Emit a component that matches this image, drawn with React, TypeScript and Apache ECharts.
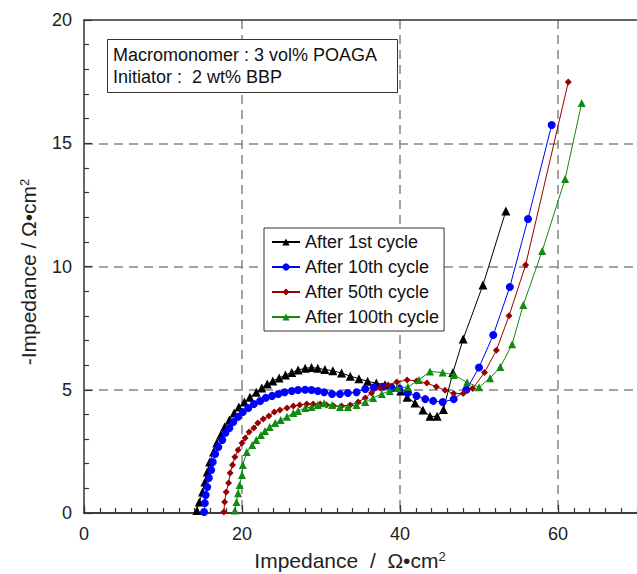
import React, { useEffect, useRef } from "react";
import * as echarts from "echarts";

// ---- data (Z' , -Z'') ----
const seriesNames = ["After 1st cycle", "After 10th cycle", "After 50th cycle", "After 100th cycle"];

const cycle1: number[][] = [
  [14.3, 0.1], [14.6, 0.45], [15.0, 0.85], [15.3, 1.26], [15.6, 1.66], [15.9, 2.07], [16.4, 2.47],
  [16.8, 2.84], [17.3, 3.16], [17.8, 3.49], [18.4, 3.77], [19.0, 4.06], [19.6, 4.3], [20.3, 4.5],
  [21.0, 4.7], [21.8, 4.9], [22.5, 5.07], [23.2, 5.23], [23.9, 5.36], [24.7, 5.48], [25.5, 5.6],
  [26.3, 5.7], [27.1, 5.8], [28.0, 5.87], [28.8, 5.9], [29.6, 5.87], [30.5, 5.82], [31.5, 5.77],
  [32.6, 5.68], [33.7, 5.55], [34.8, 5.45], [35.9, 5.34], [37.0, 5.27], [38.1, 5.2], [39.1, 5.1],
  [40.1, 4.95], [40.9, 4.7], [41.9, 4.46], [42.9, 4.18], [43.8, 3.92], [44.7, 3.92], [45.5, 4.2],
  [46.7, 5.7], [48.0, 7.06], [50.5, 9.25], [53.4, 12.25],
];

const cycle10: number[][] = [
  [15.2, 0.04], [15.3, 0.4], [15.4, 0.73], [15.6, 1.05], [15.8, 1.42], [16.1, 1.74], [16.3, 2.07],
  [16.6, 2.39], [17.0, 2.68], [17.5, 2.96], [17.9, 3.25], [18.4, 3.45], [18.9, 3.69], [19.5, 3.9],
  [20.1, 4.1], [20.8, 4.26], [21.5, 4.42], [22.3, 4.54], [23.0, 4.67], [23.8, 4.75], [24.6, 4.83],
  [25.4, 4.9], [26.3, 4.95], [27.1, 4.99], [28.0, 5.0], [28.8, 4.99], [29.6, 4.95], [30.4, 4.9],
  [31.4, 4.83], [32.4, 4.83], [33.4, 4.87], [34.5, 4.9], [35.6, 5.03], [36.7, 5.1], [37.8, 5.12],
  [38.9, 5.1], [39.9, 5.05], [41.0, 4.88], [42.1, 4.75], [43.2, 4.62], [44.2, 4.55], [45.4, 4.5],
  [46.8, 4.62], [48.4, 5.0], [50.0, 5.9], [51.8, 7.22], [53.9, 9.17], [56.2, 11.93], [59.2, 15.74],
];

const cycle50: number[][] = [
  [17.7, 0.04], [17.8, 0.45], [18.0, 0.85], [18.3, 1.22], [18.5, 1.62], [18.8, 1.95], [19.1, 2.27],
  [19.5, 2.56], [20.0, 2.84], [20.4, 3.04], [20.9, 3.29], [21.5, 3.45], [22.0, 3.65], [22.7, 3.81],
  [23.4, 3.94], [24.1, 4.1], [24.8, 4.18], [25.7, 4.26], [26.5, 4.34], [27.3, 4.38], [28.2, 4.42],
  [29.0, 4.42], [29.9, 4.42], [30.7, 4.38], [31.6, 4.34], [32.6, 4.34], [33.7, 4.38], [34.7, 4.5],
  [35.6, 4.67], [36.4, 4.87], [37.5, 5.07], [38.5, 5.19], [39.6, 5.31], [40.9, 5.4], [42.1, 5.36],
  [43.4, 5.27], [44.6, 5.12], [45.7, 4.98], [46.8, 4.85], [48.0, 4.85], [49.2, 5.05], [50.7, 5.7],
  [52.2, 6.6], [53.8, 8.0], [55.9, 10.06], [61.3, 17.48],
];

const cycle100: number[][] = [
  [19.1, 0.1], [19.3, 0.45], [19.5, 0.8], [19.7, 1.14], [20.0, 1.54], [20.1, 1.95], [20.6, 2.47],
  [21.3, 2.76], [21.8, 2.96], [22.4, 3.16], [22.9, 3.33], [23.5, 3.49], [24.2, 3.65], [24.9, 3.77],
  [25.7, 3.9], [26.5, 4.06], [27.1, 4.14], [28.0, 4.26], [28.8, 4.3], [29.6, 4.38], [30.4, 4.45],
  [31.4, 4.38], [32.4, 4.3], [33.4, 4.3], [34.5, 4.38], [35.6, 4.5], [36.6, 4.67], [37.7, 4.83],
  [38.7, 4.95], [39.7, 5.07], [41.0, 5.11], [42.4, 5.4], [43.8, 5.74], [45.4, 5.7], [46.8, 5.6],
  [48.5, 5.3], [50.0, 5.1], [51.4, 5.47], [52.7, 5.92], [54.2, 6.85], [55.6, 8.44], [58.0, 10.63],
  [60.9, 13.55], [63.0, 16.63],
];

const seriesData = [cycle1, cycle10, cycle50, cycle100];
const seriesColors = ["#000000", "#0000ff", "#990000", "#118a11"];
const seriesSymbols = ["triangle", "circle", "diamond", "triangle"];
const seriesSymbolSizes = [9, 8, 7, 8];

const xRange = [0, 70];
const yRange = [0, 20];
const annotationLines = ["Macromonomer : 3 vol% POAGA", "Initiator :  2 wt% BBP"];

const FONT = "'Liberation Sans', Arial, sans-serif";

export default function App() {
  const ref = useRef<HTMLDivElement>(null);

  useEffect(() => {
    if (!ref.current) return;
    const chart = echarts.init(ref.current, null, { renderer: "svg" });
    const gridDash = { color: "#858585", width: 1.5, type: [9, 6] as any };
    const tickStyle = { color: "#333", width: 1.2 };

    chart.setOption({
      animation: false,
      backgroundColor: "#ffffff",
      textStyle: { fontFamily: FONT },
      grid: { left: 84, right: 0, top: 20, bottom: 61, containLabel: false },
      xAxis: [
        {
          type: "value",
          position: "bottom",
          min: xRange[0],
          max: xRange[1],
          interval: 20,
          axisLine: { show: true, onZero: false, lineStyle: { color: "#333", width: 1.5 } },
          axisTick: { show: true, inside: true, length: 8, lineStyle: tickStyle },
          axisLabel: { fontSize: 18, color: "#222", margin: 12, showMaxLabel: false, fontFamily: FONT },
          splitLine: { show: true, showMinLine: false, showMaxLine: false, lineStyle: gridDash },
        },
        {
          type: "value",
          position: "bottom",
          min: xRange[0],
          max: xRange[1],
          interval: 2,
          axisLine: { show: true, onZero: false, lineStyle: { color: "#333", width: 1.5 } },
          axisTick: { show: true, inside: true, length: 5, lineStyle: tickStyle },
          axisLabel: { show: false },
          splitLine: { show: false },
        },
        {
          type: "value",
          position: "top",
          min: xRange[0],
          max: xRange[1],
          axisLine: { show: true, onZero: false, lineStyle: { color: "#333", width: 1.5 } },
          axisTick: { show: false },
          axisLabel: { show: false },
          splitLine: { show: false },
        },
      ],
      yAxis: [
        {
          type: "value",
          position: "left",
          min: yRange[0],
          max: yRange[1],
          interval: 5,
          axisLine: { show: true, onZero: false, lineStyle: { color: "#333", width: 1.5 } },
          axisTick: { show: true, inside: true, length: 8, lineStyle: tickStyle },
          minorTick: { show: true, splitNumber: 5, length: 5, lineStyle: tickStyle },
          axisLabel: { fontSize: 18, color: "#222", margin: 12, fontFamily: FONT },
          splitLine: { show: true, showMinLine: false, showMaxLine: false, lineStyle: gridDash },
        },
      ],
      legend: {
        show: true,
        orient: "vertical",
        left: 264,
        top: 228,
        data: seriesNames,
        itemWidth: 28,
        itemHeight: 9,
        itemGap: 7,
        padding: [5, 5, 5, 7],
        borderColor: "#333",
        borderWidth: 1,
        backgroundColor: "#ffffff",
        textStyle: { fontSize: 18, color: "#111", fontFamily: FONT },
        z: 20,
      },
      graphic: [
        {
          type: "rect",
          z: 100,
          shape: { x: 107.5, y: 39.5, width: 290, height: 53 },
          style: { fill: "#ffffff", stroke: "#333", lineWidth: 1 },
        },
        ...annotationLines.map((t, i) => ({
          type: "text",
          z: 101,
          x: 113,
          y: 55 + i * 21.5,
          style: {
            text: t,
            font: `18px ${FONT}`,
            fill: "#111",
            align: "left",
            verticalAlign: "middle",
          },
        })),
        {
          type: "text",
          z: 101,
          x: 350,
          y: 560,
          style: {
            text: "Impedance  /  Ω•cm{sup|2}",
            font: `21px ${FONT}`,
            fill: "#222",
            align: "center",
            verticalAlign: "middle",
            rich: {
              sup: { fontSize: 13, fontFamily: FONT, verticalAlign: "top", lineHeight: 13, padding: [0, 0, 14, 0] },
            },
          },
        },
        {
          type: "text",
          z: 101,
          x: 28,
          y: 272,
          rotation: Math.PI / 2,
          style: {
            text: "-Impedance / Ω•cm{sup|2}",
            font: `21px ${FONT}`,
            fill: "#222",
            align: "center",
            verticalAlign: "middle",
            rich: {
              sup: { fontSize: 13, fontFamily: FONT, verticalAlign: "top", lineHeight: 13, padding: [0, 0, 14, 0] },
            },
          },
        },
      ],
      series: seriesData.map((d, i) => ({
        name: seriesNames[i],
        type: "line",
        xAxisIndex: 0,
        yAxisIndex: 0,
        data: d,
        symbol: seriesSymbols[i],
        symbolSize: seriesSymbolSizes[i],
        showSymbol: true,
        color: seriesColors[i],
        itemStyle: { color: seriesColors[i] },
        lineStyle: { color: seriesColors[i], width: 1 },
        z: 3 + i,
        clip: false,
      })),
    });

    return () => chart.dispose();
  }, []);

  return (
    <div
      ref={ref}
      style={{ position: "fixed", left: 0, top: 0, width: 637, height: 574, background: "#fff" }}
    />
  );
}
